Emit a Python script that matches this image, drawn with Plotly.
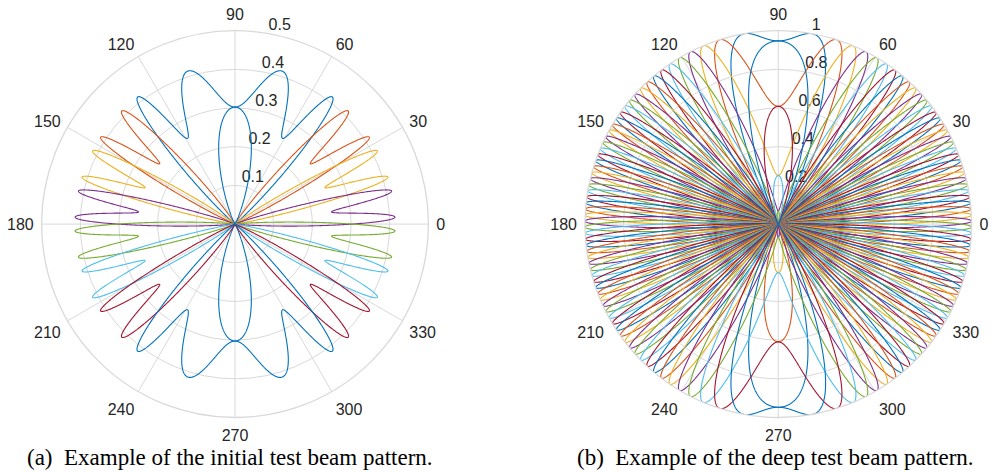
import numpy as np
import plotly.graph_objects as go

# Default MATLAB line colour order, cycled over the beams
COLOR_ORDER = ["#0072BD", "#D95319", "#EDB120", "#7E2F8E", "#77AC30", "#4DBEEE", "#A2142F"]
GRID_COLOR = "#d9d9d9"
TEXT_COLOR = "#262626"

ANGLE_TICKS = [0, 30, 60, 90, 120, 150, 180, 210, 240, 270, 300, 330]
ANGLE_LABELS = [str(a) for a in ANGLE_TICKS]
R_LABEL_ANGLE = 80                 # radial tick labels sit along this spoke

# (a) initial test beams: every beam steers two lobes (degrees off broadside)
INITIAL_LOBE_1_DEG = [73.3, 45.1, 27.3, 12.0, -2.4, -17.0, -32.8, -52.4]
INITIAL_LOBE_2_DEG = [52.4, 32.8, 17.0, 2.4, -12.0, -27.3, -45.1, -73.3]
INITIAL_LOBE_GAIN = 0.41
INITIAL_LOBE_WIDTH = 0.054          # lobe width in sin(theta) space
INITIAL_R_TICKS = [0.1, 0.2, 0.3, 0.4, 0.5]
INITIAL_R_LABELS = ["0.1", "0.2", "0.3", "0.4", "0.5"]

# (b) deep test beams: 64 single-lobe beams (degrees off broadside)
DEEP_BEAM_DEG = [
    79.9, 72.4, 67.2, 63.0, 59.3, 55.9, 52.8, 50.0,
    47.3, 44.7, 42.2, 39.8, 37.6, 35.3, 33.2, 31.0,
    29.0, 26.9, 25.0, 23.0, 21.1, 19.2, 17.3, 15.4,
    13.6, 11.7, 9.9, 8.1, 6.3, 4.5, 2.7, 0.9,
    -0.9, -2.7, -4.5, -6.3, -8.1, -9.9, -11.7, -13.6,
    -15.4, -17.3, -19.2, -21.1, -23.0, -25.0, -26.9, -29.0,
    -31.0, -33.2, -35.3, -37.6, -39.8, -42.2, -44.7, -47.3,
    -50.0, -52.8, -55.9, -59.3, -63.0, -67.2, -72.4, -79.9,
]
DEEP_BEAM_GAIN = 1.0
DEEP_BEAM_WIDTH = 0.047
DEEP_R_TICKS = [0.2, 0.4, 0.6, 0.8, 1.0]
DEEP_R_LABELS = ["0.2", "0.4", "0.6", "0.8", "1"]

CAPTIONS = [
    "(a)\u00a0 Example of the initial test beam pattern.",
    "(b)\u00a0 Example of the deep test beam pattern.",
]

theta = np.linspace(0.0, 360.0, 7201)
u = np.sin(np.radians(theta))


def lobe(steer_deg, width):
    """Array-factor lobe in sin-space; half-wavelength spacing wraps u with period 2."""
    d = (u - np.sin(np.radians(steer_deg)) + 1.0) % 2.0 - 1.0
    return np.exp(-d ** 2 / (2.0 * width ** 2))


tick_font = dict(family="Liberation Sans, Arial, sans-serif", size=16, color=TEXT_COLOR)

fig = go.Figure()


def add_r_labels(subplot, ticks, labels):
    # radial tick labels drawn beneath the beam curves
    fig.add_trace(go.Scatterpolar(
        r=ticks, theta=[R_LABEL_ANGLE] * len(ticks), mode="text", text=labels,
        textposition="top right", textfont=tick_font, cliponaxis=False,
        subplot=subplot, hoverinfo="skip",
    ))


add_r_labels("polar", INITIAL_R_TICKS, INITIAL_R_LABELS)
for k, (a_deg, b_deg) in enumerate(zip(INITIAL_LOBE_1_DEG, INITIAL_LOBE_2_DEG)):
    r = INITIAL_LOBE_GAIN * (lobe(a_deg, INITIAL_LOBE_WIDTH) + lobe(b_deg, INITIAL_LOBE_WIDTH))
    fig.add_trace(go.Scatterpolar(
        r=r, theta=theta, mode="lines", subplot="polar",
        line=dict(color=COLOR_ORDER[k % 7], width=1.1), hoverinfo="skip",
    ))

add_r_labels("polar2", DEEP_R_TICKS, DEEP_R_LABELS)
for k, steer in enumerate(DEEP_BEAM_DEG):
    r = DEEP_BEAM_GAIN * lobe(steer, DEEP_BEAM_WIDTH)
    fig.add_trace(go.Scatterpolar(
        r=r, theta=theta, mode="lines", subplot="polar2",
        line=dict(color=COLOR_ORDER[k % 7], width=1.1), hoverinfo="skip",
    ))


def polar_axes(domain_x, rmax, rticks):
    return dict(
        domain=dict(x=domain_x, y=[0.1155, 0.9350]),
        bgcolor="white",
        angularaxis=dict(
            rotation=0, direction="counterclockwise",
            tickmode="array", tickvals=ANGLE_TICKS, ticktext=ANGLE_LABELS,
            ticks="outside", ticklen=4, tickcolor="rgba(0,0,0,0)",
            showline=True, linecolor=GRID_COLOR, linewidth=1.3,
            gridcolor=GRID_COLOR, gridwidth=1.3, tickfont=tick_font,
        ),
        radialaxis=dict(
            range=[0, rmax], tickmode="array", tickvals=rticks,
            angle=R_LABEL_ANGLE, showticklabels=False, showline=False, ticks="",
            gridcolor=GRID_COLOR, gridwidth=1.3,
        ),
    )


fig.update_layout(
    width=996, height=472,
    margin=dict(l=0, r=0, t=0, b=0),
    paper_bgcolor="white", plot_bgcolor="white",
    showlegend=False,
    polar=polar_axes([0.0417, 0.4302], 0.5, INITIAL_R_TICKS),
    polar2=polar_axes([0.5872, 0.9756], 1.0, DEEP_R_TICKS),
)

# caption strip below both panels
fig.add_shape(type="rect", xref="paper", yref="paper", x0=0, x1=1, y0=0, y1=0.0636,
              fillcolor="white", line=dict(width=0), layer="above")
for x, text in zip([0.2305, 0.7785], CAPTIONS):
    fig.add_annotation(x=x, y=0.0297, xref="paper", yref="paper", text=text, showarrow=False,
                       xanchor="center", yanchor="middle",
                       font=dict(family="Liberation Serif, Times New Roman, serif", size=23, color="black"))

fig.write_html("out.html")
